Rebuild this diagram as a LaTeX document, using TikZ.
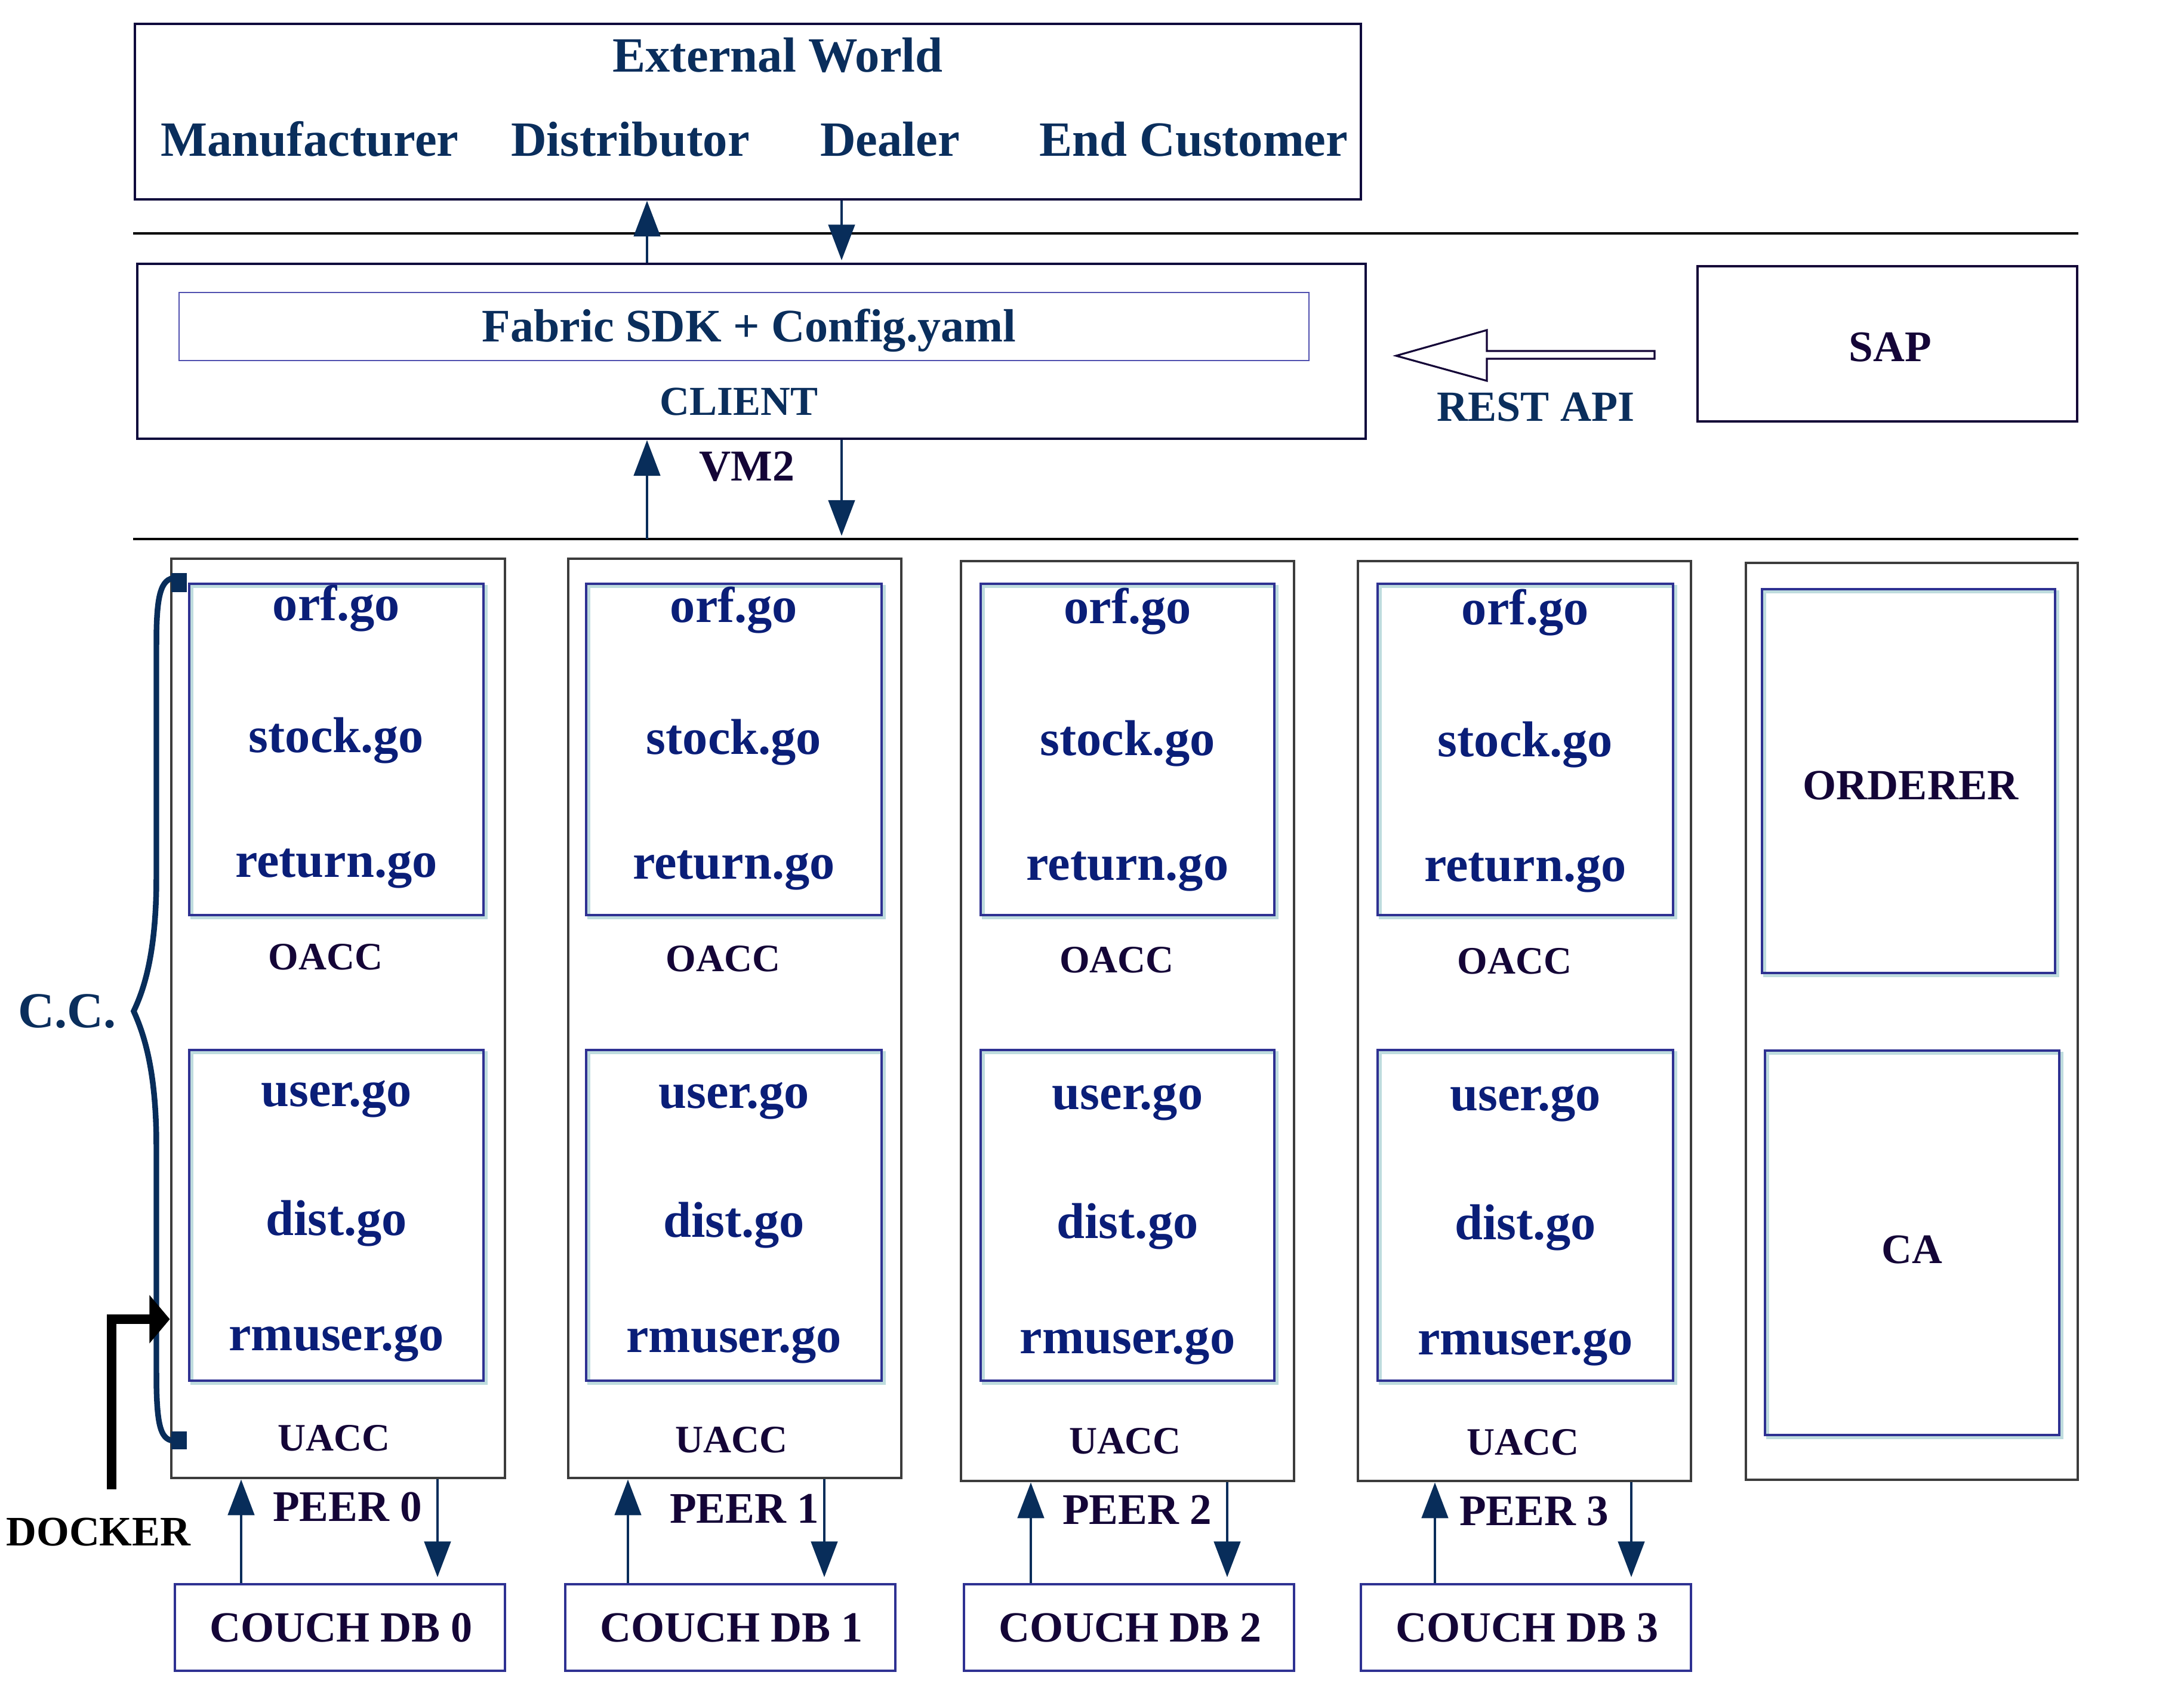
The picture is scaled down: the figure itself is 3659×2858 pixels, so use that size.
\documentclass[tikz,border=0pt]{standalone}
\usepackage{fontspec}
\setmainfont{Liberation Serif}
\usetikzlibrary{arrows.meta,fit,calc}
\definecolor{extblue}{RGB}{10,46,92}
\definecolor{gotext}{RGB}{10,30,120}
\definecolor{darkp}{RGB}{20,5,55}
\definecolor{arrcol}{RGB}{8,45,90}
\definecolor{peergray}{RGB}{60,60,60}
\definecolor{boxblue}{RGB}{46,49,146}
\definecolor{shadowcol}{RGB}{190,220,222}
\definecolor{navyborder}{RGB}{15,10,60}
\definecolor{sdkborder}{RGB}{80,80,175}
\begin{document}
\begin{tikzpicture}[x=0.01cm,y=-0.01cm,
  txt/.style={anchor=base, inner sep=0pt},
  bigt/.style={txt, text=extblue, font=\fontsize{23.5}{28}\selectfont\bfseries},
  got/.style={txt, text=gotext, font=\fontsize{24}{28}\selectfont\bfseries},
  capt/.style={txt, text=darkp, font=\fontsize{20.5}{24}\selectfont\bfseries},
  acct/.style={txt, text=darkp, font=\fontsize{18.5}{22}\selectfont\bfseries},
  bluecap/.style={txt, text=extblue, font=\fontsize{20}{24}\selectfont\bfseries},
  fbox/.style={inner sep=0pt, fill=none},
  topbox/.style={fbox, draw=navyborder, line width=1.3pt},
  peerbox/.style={fbox, draw=peergray, line width=1.4pt},
  gobox/.style={fbox, draw=boxblue, line width=0.9pt,
     preaction={draw=shadowcol, line width=1.3pt, transform canvas={xshift=1.2pt,yshift=-1.2pt}}},
  couchbox/.style={fbox, draw=boxblue, line width=1.1pt},
  rule/.style={draw=black, line width=1.1pt},
  arr/.style={draw=arrcol, line width=1.4pt, -{Triangle[length=17pt,width=12.5pt]}},
]
\useasboundingbox (0,0) rectangle (3659,2858);

% ---------- External world ----------
\node[topbox, fit={(226,40)(2280,334)}] (ext) {};
\node[bigt] (extt) at (1303,121) {External World};
\node[bigt] (manu) at (519,262) {Manufacturer};
\node[bigt] (dist) at (1056,262) {Distributor};
\node[bigt] (deal) at (1491,262) {Dealer};
\node[bigt] (endc) at (2000,262) {End Customer};

% ---------- rules ----------
\coordinate (r1a) at (223,391); \coordinate (r1b) at (3482,391);
\coordinate (r2a) at (223,903); \coordinate (r2b) at (3482,903);
\draw[rule] (r1a) -- (r1b);
\draw[rule] (r2a) -- (r2b);

% ---------- client ----------
\node[topbox, fit={(230,442)(2288,735)}] (client) {};
\node[fbox, draw=sdkborder, line width=0.6pt, fit={(300,490)(2193,604)}] (sdk) {};
\node[txt, text=extblue, font=\fontsize{22.2}{26}\selectfont\bfseries] (sdkt) at (1255,573) {Fabric SDK + Config.yaml};
\node[bluecap, font=\fontsize{19.6}{24}\selectfont\bfseries] (clientt) at (1238,696) {CLIENT};
\node[capt, font=\fontsize{21}{24}\selectfont\bfseries] (vm2) at (1251,806) {VM2};

\coordinate (upx) at (1084,0);
\coordinate (dnx) at (1410,0);
\draw[arr] (client.north -| upx) -- (ext.south -| upx);
\draw[arr, shorten >=1pt] (ext.south -| dnx) -- (client.north -| dnx);
\draw[arr] (r2a -| upx) -- (client.south -| upx);
\draw[arr, shorten >=1.5pt] (client.south -| dnx) -- (r2a -| dnx);

% ---------- SAP and REST API ----------
\node[fbox, draw=darkp, line width=1.4pt, fit={(2844,446)(3480,706)}] (sap) {};
\node[capt, font=\fontsize{20.8}{24}\selectfont\bfseries] (sapt) at (3167,606) {SAP};
\coordinate (rtip) at (2339,596);
\coordinate (rtail) at (2772,594.5);
\draw[draw=darkp, line width=0.9pt, fill=white, line join=miter]
  (rtip) -- (2491,553) -- (2491,588) -- (rtail |- 0,588) -- (rtail |- 0,601)
  -- (2491,601) -- (2491,638) -- cycle;
\node[bluecap, font=\fontsize{20.5}{24}\selectfont\bfseries] (rest) at (2573,706) {REST API};

% ---------- peers ----------
\foreach \i/\L/\T/\R/\B/\IL/\IR/\up/\dn/\CL/\CR/\dy in {
  0/287/936/846/2476/317/810/404/733/293/846/0,
  1/952/936/1510/2476/982/1477/1052/1381/947/1500/3,
  2/1610/940/2168/2481/1643/2135/1727/2056/1615/2168/5,
  3/2275/940/2833/2481/2308/2803/2404/2733/2280/2833/7}{
  \pgfmathsetmacro{\cx}{(\IL+\IR)/2}
  \pgfmathsetmacro{\ccx}{(\CL+\CR)/2+2}
  \node[peerbox, fit={(\L,\T)(\R,\B)}] (peer\i) {};
  \node[gobox, fit={(\IL,978)(\IR,1533)}] (oacc\i) {};
  \node[gobox, fit={(\IL,1759)(\IR,2313)}] (uacc\i) {};
  \node[got] (orf\i) at (\cx,1040+\dy) {orf.go};
  \node[got] (stock\i) at (\cx,1260+\dy) {stock.go};
  \node[got] (ret\i) at (\cx,1469+\dy) {return.go};
  \node[acct] (oaccl\i) at (\cx-18,1624+\dy) {OACC};
  \node[got] (user\i) at (\cx,1853+\dy) {user.go};
  \node[got] (distg\i) at (\cx,2069+\dy) {dist.go};
  \node[got] (rmu\i) at (\cx,2262+\dy) {rmuser.go};
  \node[acct] (uaccl\i) at (\cx-4,2430+\dy) {UACC};
  \node[capt, font=\fontsize{20.8}{24}\selectfont\bfseries] (peerl\i) at (\L+295,2548+\dy) {PEER \i};
  \node[couchbox, fit={(\CL,2654)(\CR,2799)}] (couch\i) {};
  \node[capt] (coucht\i) at (\ccx,2750) {COUCH DB \i};
  \coordinate (u\i) at (\up,0);
  \coordinate (d\i) at (\dn,0);
  \draw[arr] (couch\i.north -| u\i) -- (peer\i.south -| u\i);
  \draw[arr, shorten >=2.8pt] (peer\i.south -| d\i) -- (couch\i.north -| d\i);
}

% ---------- orderer / CA ----------
\node[peerbox, fit={(2925,943)(3481,2479)}] (ordbox) {};
\node[gobox, fit={(2952,987)(3443,1630)}] (orderer) {};
\node[gobox, fit={(2957,1760)(3450,2404)}] (ca) {};
\node[capt, font=\fontsize{20.5}{24}\selectfont\bfseries] (ordt) at (3201,1339) {ORDERER};
\node[capt, font=\fontsize{20}{24}\selectfont\bfseries] (cat) at (3203,2116) {CA};

% ---------- C.C. brace ----------
\fill[arrcol] (287,960) rectangle (313,992);
\fill[arrcol] (287,2398) rectangle (313,2428);
\draw[draw=arrcol, line width=2.7pt, line cap=round]
  (295,968) .. controls (268,968) and (262,1000) .. (262,1080)
  -- (262,1470) .. controls (262,1600) and (240,1660) .. (224,1694)
  .. controls (240,1730) and (262,1790) .. (262,1920)
  -- (262,2300) .. controls (262,2395) and (270,2414) .. (295,2414);
\node[txt, text=extblue, font=\fontsize{24}{28}\selectfont\bfseries] (cc) at (113,1721) {C.C.};

% ---------- DOCKER ----------
\coordinate (dockstart) at (187,2495);
\draw[draw=black, line width=4.5pt, line join=miter, -{Triangle[length=9.7pt,width=22.5pt]}]
  (dockstart) |- (peer0.west |- 0,2210);
\node[txt, text=black, font=\fontsize{20}{24}\selectfont\bfseries] (docker) at (165,2589) {DOCKER};
\end{tikzpicture}
\end{document}
